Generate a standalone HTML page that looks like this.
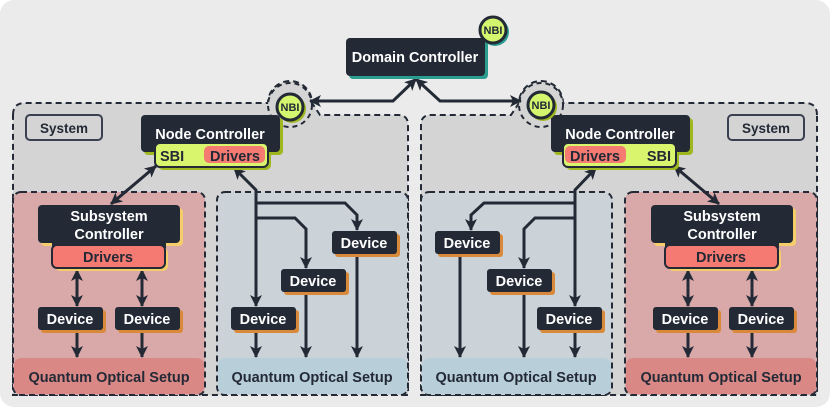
<!DOCTYPE html>
<html><head><meta charset="utf-8"><style>
body{margin:0;background:#fff}
svg{display:block}
text{font-family:"Liberation Sans",sans-serif;font-weight:bold}
</style></head><body>
<svg width="830" height="409" viewBox="0 0 830 409" xmlns="http://www.w3.org/2000/svg">
<defs>
<marker id="a" viewBox="0 0 12 12" refX="11" refY="6" markerWidth="12" markerHeight="12" markerUnits="userSpaceOnUse" orient="auto-start-reverse">
<path d="M0,0 L12,6 L0,12 L3,6 Z" fill="#232a36"/>
</marker>
</defs>
<rect x="0" y="0" width="830" height="407" rx="14" fill="#ebebeb"/>
<path d="M13,115 Q13,103 25,103 L268,103 A22,22 0 0 1 312,103 L320,115 L398,115 Q408,115 408,125 L408,395 L13,395 Z" fill="#d4d4d4" stroke="#232a36" stroke-width="2" stroke-dasharray="6,4"/>
<path d="M817,115 Q817,103 805,103 L563,103 A22,22 0 0 0 519,103 L511,115 L431,115 Q421,115 421,125 L421,395 L817,395 Z" fill="#d4d4d4" stroke="#232a36" stroke-width="2" stroke-dasharray="6,4"/>
<circle cx="290" cy="105" r="22" fill="#d4d4d4" stroke="#232a36" stroke-width="2" stroke-dasharray="5,4"/>
<circle cx="541" cy="105" r="22" fill="#d4d4d4" stroke="#232a36" stroke-width="2" stroke-dasharray="5,4"/>
<rect x="26" y="115" width="76" height="25" rx="4" fill="none" stroke="#3a4050" stroke-width="2"/>
<text x="64" y="133" font-size="13.5" text-anchor="middle" fill="#232a36">System</text>
<rect x="728" y="115" width="76" height="25" rx="4" fill="none" stroke="#3a4050" stroke-width="2"/>
<text x="766" y="133" font-size="13.5" text-anchor="middle" fill="#232a36">System</text>
<g stroke="#232a36" stroke-width="2" stroke-dasharray="6,4">
<rect x="13" y="192" width="192" height="203" rx="8" fill="#d9a9a9"/>
<rect x="217" y="192" width="191" height="203" rx="8" fill="#ccd3d8"/>
<rect x="421" y="192" width="191" height="203" rx="8" fill="#ccd3d8"/>
<rect x="625" y="192" width="192" height="203" rx="8" fill="#d9a9a9"/>
</g>
<rect x="14" y="358" width="190" height="36" rx="7" fill="#d98886"/>
<rect x="218" y="358" width="189" height="36" rx="7" fill="#b8cfd9"/>
<rect x="422" y="358" width="189" height="36" rx="7" fill="#b8cfd9"/>
<rect x="626" y="358" width="190" height="36" rx="7" fill="#d98886"/>
<g font-size="14.5" text-anchor="middle" fill="#232a36">
<text x="109" y="382">Quantum Optical Setup</text>
<text x="312" y="382">Quantum Optical Setup</text>
<text x="516" y="382">Quantum Optical Setup</text>
<text x="721" y="382">Quantum Optical Setup</text>
</g>
<g fill="none" stroke="#232a36" stroke-width="3">
<path d="M416,79 L393,101 L310,101" marker-start="url(#a)" marker-end="url(#a)"/>
<path d="M416,79 L440,101 L521,101" marker-start="url(#a)" marker-end="url(#a)"/>
<path d="M156,166 L111,204" marker-start="url(#a)" marker-end="url(#a)"/>
<path d="M674,166 L719,204" marker-start="url(#a)" marker-end="url(#a)"/>
<path d="M234,168 L256,190 L256,306" marker-start="url(#a)" marker-end="url(#a)"/>
<path d="M256,203 L345,203 L357,215 L357,230" marker-end="url(#a)"/>
<path d="M256,218 L295,218 L306,229 L306,268" marker-end="url(#a)"/>
<path d="M596,168 L575,190 L575,306" marker-start="url(#a)" marker-end="url(#a)"/>
<path d="M575,203 L484,203 L471,215 L471,230" marker-end="url(#a)"/>
<path d="M575,218 L535,218 L524,229 L524,268" marker-end="url(#a)"/>
<path d="M256,330 L256,357" marker-end="url(#a)"/>
<path d="M306,292 L306,357" marker-end="url(#a)"/>
<path d="M357,254 L357,357" marker-end="url(#a)"/>
<path d="M460,254 L460,357" marker-end="url(#a)"/>
<path d="M524,292 L524,357" marker-end="url(#a)"/>
<path d="M575,330 L575,357" marker-end="url(#a)"/>
<path d="M77,270 L77,306" marker-start="url(#a)" marker-end="url(#a)"/>
<path d="M142,270 L142,306" marker-start="url(#a)" marker-end="url(#a)"/>
<path d="M688,270 L688,306" marker-start="url(#a)" marker-end="url(#a)"/>
<path d="M752,270 L752,306" marker-start="url(#a)" marker-end="url(#a)"/>
<path d="M77,331 L77,357" marker-end="url(#a)"/>
<path d="M142,331 L142,357" marker-end="url(#a)"/>
<path d="M688,331 L688,357" marker-end="url(#a)"/>
<path d="M752,331 L752,357" marker-end="url(#a)"/>
</g>
<rect x="349" y="41" width="139" height="38" rx="4" fill="#2a9d8f"/>
<rect x="346" y="38" width="139" height="38" rx="4" fill="#232a36"/>
<text x="415" y="62" font-size="14.5" text-anchor="middle" fill="#fff">Domain Controller</text>
<circle cx="495" cy="32" r="14" fill="#2a9d8f"/>
<circle cx="493" cy="30" r="13" fill="#d4f56e" stroke="#232a36" stroke-width="3"/>
<text x="493" y="34" font-size="11" text-anchor="middle" fill="#232a36">NBI</text>
<rect x="144" y="118" width="139" height="37" rx="4" fill="#9fb81f"/>
<rect x="158" y="146" width="113" height="24" rx="5" fill="#9fb81f"/>
<rect x="141" y="115" width="139" height="37" rx="4" fill="#232a36"/>
<text x="210" y="139" font-size="14.5" text-anchor="middle" fill="#fff">Node Controller</text>
<rect x="155" y="143" width="113" height="24" rx="5" fill="#d9f56e" stroke="#232a36" stroke-width="2"/>
<text x="160" y="161" font-size="14.5" fill="#232a36">SBI</text>
<rect x="204" y="146" width="61" height="17" rx="5" fill="#f47a72"/>
<text x="235" y="161" font-size="14.5" text-anchor="middle" fill="#232a36">Drivers</text>
<circle cx="292" cy="109" r="14" fill="#9fb81f"/>
<circle cx="290" cy="107" r="13" fill="#d4f56e" stroke="#232a36" stroke-width="3"/>
<text x="290" y="111" font-size="11" text-anchor="middle" fill="#232a36">NBI</text>
<rect x="554" y="118" width="139" height="37" rx="4" fill="#9fb81f"/>
<rect x="566" y="146" width="113" height="24" rx="5" fill="#9fb81f"/>
<rect x="551" y="115" width="139" height="37" rx="4" fill="#232a36"/>
<text x="620" y="139" font-size="14.5" text-anchor="middle" fill="#fff">Node Controller</text>
<rect x="563" y="143" width="113" height="24" rx="5" fill="#d9f56e" stroke="#232a36" stroke-width="2"/>
<text x="671" y="161" font-size="14.5" text-anchor="end" fill="#232a36">SBI</text>
<rect x="565" y="146" width="61" height="17" rx="5" fill="#f47a72"/>
<text x="595" y="161" font-size="14.5" text-anchor="middle" fill="#232a36">Drivers</text>
<circle cx="543" cy="107" r="14" fill="#9fb81f"/>
<circle cx="541" cy="105" r="13" fill="#d4f56e" stroke="#232a36" stroke-width="3"/>
<text x="541" y="109" font-size="11" text-anchor="middle" fill="#232a36">NBI</text>
<g>
<rect x="41" y="208" width="142" height="38" rx="4" fill="#f5cd6a"/>
<rect x="55" y="248" width="113" height="23" rx="5" fill="#f5cd6a"/>
<rect x="38" y="205" width="142" height="38" rx="4" fill="#232a36"/>
<rect x="52" y="238" width="114" height="10" fill="#232a36"/>
<text x="109" y="221" font-size="14.5" text-anchor="middle" fill="#fff">Subsystem</text>
<text x="109" y="239" font-size="14.5" text-anchor="middle" fill="#fff">Controller</text>
<rect x="52" y="245" width="113" height="23" rx="5" fill="#f47a72" stroke="#232a36" stroke-width="2"/>
<text x="108" y="262" font-size="14.5" text-anchor="middle" fill="#232a36">Drivers</text>
</g>
<g>
<rect x="654" y="208" width="142" height="38" rx="4" fill="#f5cd6a"/>
<rect x="668" y="248" width="113" height="23" rx="5" fill="#f5cd6a"/>
<rect x="651" y="205" width="142" height="38" rx="4" fill="#232a36"/>
<rect x="665" y="238" width="114" height="10" fill="#232a36"/>
<text x="722" y="221" font-size="14.5" text-anchor="middle" fill="#fff">Subsystem</text>
<text x="722" y="239" font-size="14.5" text-anchor="middle" fill="#fff">Controller</text>
<rect x="665" y="245" width="113" height="23" rx="5" fill="#f47a72" stroke="#232a36" stroke-width="2"/>
<text x="721" y="262" font-size="14.5" text-anchor="middle" fill="#232a36">Drivers</text>
</g>
<g font-size="14.5" text-anchor="middle">
<g transform="translate(38,307)"><rect x="3" y="3" width="65" height="23" rx="3" fill="#d9893a"/><rect width="65" height="23" rx="3" fill="#232a36"/><text x="32" y="17" fill="#fff">Device</text></g>
<g transform="translate(115,307)"><rect x="3" y="3" width="65" height="23" rx="3" fill="#d9893a"/><rect width="65" height="23" rx="3" fill="#232a36"/><text x="32" y="17" fill="#fff">Device</text></g>
<g transform="translate(231,307)"><rect x="3" y="3" width="65" height="23" rx="3" fill="#d9893a"/><rect width="65" height="23" rx="3" fill="#232a36"/><text x="32" y="17" fill="#fff">Device</text></g>
<g transform="translate(281,269)"><rect x="3" y="3" width="65" height="23" rx="3" fill="#d9893a"/><rect width="65" height="23" rx="3" fill="#232a36"/><text x="32" y="17" fill="#fff">Device</text></g>
<g transform="translate(332,231)"><rect x="3" y="3" width="65" height="23" rx="3" fill="#d9893a"/><rect width="65" height="23" rx="3" fill="#232a36"/><text x="32" y="17" fill="#fff">Device</text></g>
<g transform="translate(435,231)"><rect x="3" y="3" width="65" height="23" rx="3" fill="#d9893a"/><rect width="65" height="23" rx="3" fill="#232a36"/><text x="32" y="17" fill="#fff">Device</text></g>
<g transform="translate(487,269)"><rect x="3" y="3" width="65" height="23" rx="3" fill="#d9893a"/><rect width="65" height="23" rx="3" fill="#232a36"/><text x="32" y="17" fill="#fff">Device</text></g>
<g transform="translate(537,307)"><rect x="3" y="3" width="65" height="23" rx="3" fill="#d9893a"/><rect width="65" height="23" rx="3" fill="#232a36"/><text x="32" y="17" fill="#fff">Device</text></g>
<g transform="translate(653,307)"><rect x="3" y="3" width="65" height="23" rx="3" fill="#d9893a"/><rect width="65" height="23" rx="3" fill="#232a36"/><text x="32" y="17" fill="#fff">Device</text></g>
<g transform="translate(729,307)"><rect x="3" y="3" width="65" height="23" rx="3" fill="#d9893a"/><rect width="65" height="23" rx="3" fill="#232a36"/><text x="32" y="17" fill="#fff">Device</text></g>
</g>
</svg>
</body></html>
